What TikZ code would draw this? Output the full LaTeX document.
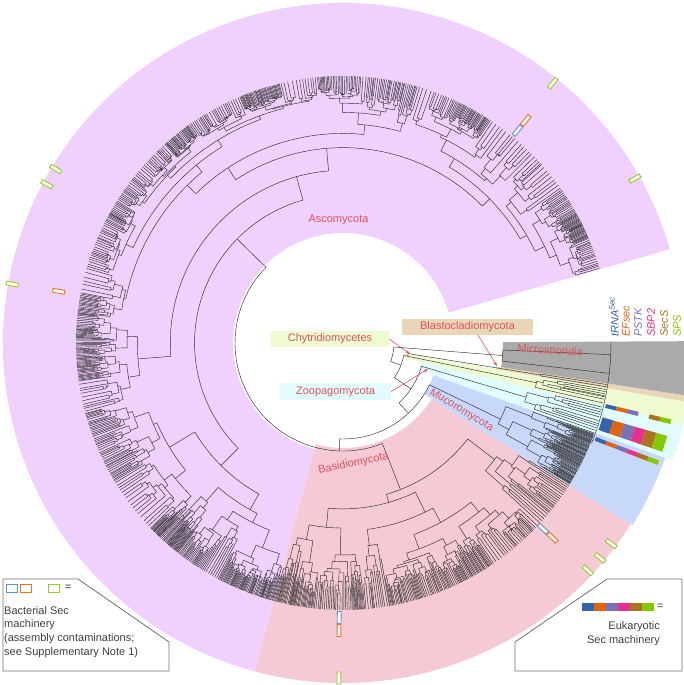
\documentclass[tikz,border=0pt]{standalone}
\usepackage{fontspec}
\setmainfont{Liberation Sans}
\usetikzlibrary{arrows.meta}
\definecolor{asco}{RGB}{240,208,252}
\definecolor{basid}{RGB}{245,202,212}
\definecolor{muco}{RGB}{200,216,250}
\definecolor{zoo}{RGB}{224,252,252}
\definecolor{chy}{RGB}{238,250,210}
\definecolor{bla}{RGB}{233,214,182}
\definecolor{mic}{RGB}{170,170,170}
\definecolor{labred}{RGB}{222,84,90}
\definecolor{cblue}{RGB}{52,100,172}
\definecolor{corange}{RGB}{226,100,12}
\definecolor{cpurple}{RGB}{122,112,182}
\definecolor{cpink}{RGB}{230,50,140}
\definecolor{cbrown}{RGB}{170,115,32}
\definecolor{cgreen}{RGB}{132,200,0}
\definecolor{mblue}{RGB}{95,145,212}
\definecolor{morange}{RGB}{232,116,30}
\definecolor{mgreen}{RGB}{150,205,40}
\newcommand\sector[5]{\fill[#1] (#2:#4) arc[start angle=#2, end angle=#3, radius=#4] -- (#3:#5) arc[start angle=#3, end angle=#2, radius=#5] -- cycle;}
\newcommand\cell[4]{\pgfmathsetmacro\CLa{270+11.2*#4}\pgfmathsetmacro\CLb{\CLa+11.2}%
  \fill[#1] (#2:\CLa) arc[start angle=#2, end angle=#3, radius=\CLa] -- (#3:\CLb) arc[start angle=#3, end angle=#2, radius=\CLb] -- cycle;}
\def\rtip{267}
\def\rcap{256}
\newcommand\phylo[4]{%
 \begingroup
 \pgfmathsetmacro\PHa{#1}%
 \pgfmathsetmacro\PHb{#2}%
 \pgfmathsetmacro\PHr{#3}%
 \pgfmathsetmacro\PHw{#4}%
 \pgfmathsetmacro\PHs{abs(\PHb-\PHa)}%
 \pgfmathsetmacro\PHm{(\PHa+\PHb)/2}%
 \ifdim\PHw pt<0.01pt
   \ifdim\PHs pt<10pt \pgfmathsetmacro\PHw{0.3+1.6*rnd*rnd}\fi
 \fi
 \ifdim\PHs pt<\PHw pt
   \draw[br] (\PHm:\PHr) -- (\PHm:\rtip);
 \else
   \pgfmathsetmacro\PHn{\PHr+(\rcap-\PHr)*(0.06+0.34*rnd)}%
   \draw[br] (\PHm:\PHr) -- (\PHm:\PHn);
   \pgfmathsetmacro\PHc{\PHa+(\PHb-\PHa)*(0.12+0.76*rnd)}%
   \pgfmathsetmacro\PHu{(\PHa+\PHc)/2}%
   \pgfmathsetmacro\PHv{(\PHc+\PHb)/2}%
   \draw[br] (\PHu:\PHn) arc[start angle=\PHu, end angle=\PHv, radius=\PHn];
   \phylo{\PHa}{\PHc}{\PHn}{\PHw}%
   \phylo{\PHc}{\PHb}{\PHn}{\PHw}%
 \fi
 \endgroup}
\begin{document}
\begin{tikzpicture}[x=1pt,y=1pt,
  br/.style={line width=0.45pt, draw=black!82},
  lab/.style={font=\fontsize{11}{13}\selectfont, text=labred, inner sep=1pt},
  labbox/.style={lab, minimum height=16pt, inner sep=0pt},
  arr/.style={draw=labred, line width=0.6pt, -{Stealth[length=4.5pt,width=3.2pt]}},
  mk/.style={draw=#1, fill=white, line width=0.9pt, minimum width=12pt, minimum height=3.8pt, inner sep=0pt, rectangle},
  hdr/.style={font=\fontsize{11}{13}\selectfont\itshape, rotate=90, anchor=west, inner sep=0pt},
  legbox/.style={draw=black!55, line width=0.8pt, fill=white},
  legtxt/.style={font=\fontsize{11}{13.6}\selectfont, text=black!75, inner sep=0pt, align=left},
  lsym/.style={draw=#1, fill=white, line width=1pt, minimum width=11pt, minimum height=8pt, inner sep=0pt, rectangle}]
\useasboundingbox (-343,-342) rectangle (341,343);
\pgfmathsetseed{7}
% clade backgrounds
\sector{asco}{16}{255}{110}{340}
\sector{basid}{-105}{-32.2}{105}{340}
\sector{muco}{-32.2}{-19.6}{96}{342}
\sector{zoo}{-19.6}{-13.5}{80}{350}
\sector{chy}{-13.5}{-9.7}{63}{350}
\sector{bla}{-9.7}{-8.7}{155}{350}
\sector{mic}{-8.7}{0.3}{160}{350}
% Sec machinery columns
\cell{cblue}{-13.9}{-13.1}{0}\cell{corange}{-13.9}{-13.1}{1}\cell{cpurple}{-13.9}{-13.1}{2}
\cell{cbrown}{-13.9}{-13.1}{4}\cell{cgreen}{-13.9}{-13.1}{5}
\cell{cblue}{-18.8}{-16.0}{0}\cell{corange}{-18.8}{-16.0}{1}\cell{cpurple}{-18.8}{-16.0}{2}
\cell{cpink}{-18.8}{-16.0}{3}\cell{cbrown}{-18.8}{-16.0}{4}\cell{cgreen}{-18.8}{-16.0}{5}
\cell{cblue}{-21.2}{-20.4}{0}\cell{corange}{-21.2}{-20.4}{1}\cell{cpurple}{-21.2}{-20.4}{2}
\cell{cpink}{-21.2}{-20.4}{3}\cell{cbrown}{-21.2}{-20.4}{4}\cell{cgreen}{-21.2}{-20.4}{5}
% backbone
\draw[br] (-4.5:51) arc[start angle=-4.5, end angle=-21, radius=51];
\draw[br] (-4.5:51) -- (-4.5:160);
\draw[br] (-2.5:160) arc[start angle=-2.5, end angle=-6.5, radius=160];
\draw[br] (-2.5:160) -- (-2.5:268);
\draw[br] (-6.5:160) -- (-6.5:268);
\draw[br] (-21:51) -- (-21:62);
\draw[br] (-11.6:62) arc[start angle=-11.6, end angle=-34, radius=62];
\draw[br] (-11.6:62) -- (-11.6:66);
\draw[br] (-9.2:66) arc[start angle=-9.2, end angle=-11.6, radius=66];
\draw[br] (-9.2:66) -- (-9.2:200);
\draw[br] (-8.95:200) arc[start angle=-8.95, end angle=-9.45, radius=200];
\draw[br] (-8.95:200) -- (-8.95:\rtip);
\draw[br] (-9.45:200) -- (-9.45:\rtip);
\draw[br] (-11.6:66) -- (-11.6:165);
\phylo{-13.4}{-9.8}{165}{0.9}
\draw[br] (-34:62) -- (-34:82);
\draw[br] (-16.5:82) arc[start angle=-16.5, end angle=-47, radius=82];
\draw[br] (-16.5:82) -- (-16.5:175);
\phylo{-19.4}{-13.6}{175}{1.0}
\draw[br] (-47:82) -- (-47:96);
\draw[br] (-25.8:96) arc[start angle=-25.8, end angle=-92, radius=96];
\draw[br] (-25.8:96) -- (-25.8:122);
\phylo{-32}{-19.6}{122}{0.3}
\draw[br] (-92:96) -- (-92:108);
\draw[br] (-68.6:108) arc[start angle=-68.6, end angle=-224.5, radius=108];
\draw[br] (-68.6:108) -- (-68.6:138);
\phylo{-105}{-32.2}{138}{0}
\phylo{16}{255}{108}{0}
\draw[br] (0.3:268) arc[start angle=0.3, end angle=-22, radius=268];
% column headers
\node[hdr, text=cblue] (h1) at (271,6) {tRNA\textsuperscript{Sec}};
\node[hdr, text=corange] (h2) at (283,6) {EFsec};
\node[hdr, text=cpurple] (h3) at (295,6) {PSTK};
\node[hdr, text=cpink] (h4) at (308,6) {SBP2};
\node[hdr, text=cbrown] (h5) at (321,6) {SecS};
\node[hdr, text=cgreen] (h6) at (334,6) {SPS};
% clade labels
\node[lab] (asc) at (-4.5,123.5) {Ascomycota};
\node[lab, rotate=12] (bas) at (10.5,-120.5) {Basidiomycota};
\node[lab, rotate=-31] (muc) at (118.5,-67.5) {Mucoromycota};
\node[lab, rotate=-4] (mic) at (207,-8) {Microsporidia};
\node[labbox, fill=chy, minimum width=118pt] (chyb) at (-13,4) {Chytridiomycetes};
\node[labbox, fill=bla, minimum width=131pt] (blab) at (124.5,16) {Blastocladiomycota};
\node[labbox, fill=zoo, minimum width=111pt, minimum height=17pt] (zoob) at (-7.5,-48.5) {Zoopagomycota};
\coordinate (chyt) at (67,-11);
\coordinate (blat) at (154,-23);
\coordinate (zoot) at (85,-26);
\draw[arr] (chyb.east) -- (chyt);
\draw[arr] (135,8) -- (blat);
\draw[arr] (zoob.east) -- (zoot);
% markers
\foreach \a/\r [count=\i] in {51.1/334, 29.4/335, 148.8/336, 151.8/336, 169.9/336, -36.8/335, -39.9/335, -42.9/334, -90.7/335}
  \node[mk=mgreen, rotate=\a] (g\i) at (\a:\r) {};
\node[mk=morange, rotate=169.7] (o1) at (169.7:289) {};
\foreach \a/\rb/\ro [count=\i] in {50.6/275/288, -42.9/273/286, -90.8/274.5/287.5}{
  \node[mk=mblue, rotate=\a] (bb\i) at (\a:\rb) {};
  \node[mk=morange, rotate=\a] (bo\i) at (\a:\ro) {};}
% legend: bacterial
\draw[legbox] (-340,-236) -- (-265,-236) -- (-174,-299) -- (-174,-328) -- (-340,-328) -- cycle;
\node[lsym=mblue] (ls1) at (-330.5,-245) {};
\node[lsym=morange] (ls2) at (-316.5,-245) {};
\node[lsym=mgreen] (ls3) at (-288.5,-245) {};
\node[legtxt, anchor=west] (leq1) at (-278,-245) {=};
\node[legtxt, anchor=base west] (bt) at (-339,-312) {Bacterial Sec\\machinery\\(assembly contaminations;\\see Supplementary Note 1)};
% legend: eukaryotic
\draw[legbox] (172,-299) -- (264,-236) -- (339,-236) -- (339,-328) -- (172,-328) -- cycle;
\foreach \c [count=\i] in {cblue,corange,cpurple,cpink,cbrown,cgreen}
  \fill[\c] ({239+12*(\i-1)},-260) rectangle ({251+12*(\i-1)},-268);
\node[legtxt, anchor=west] (leq2) at (314,-264) {=};
\node[legtxt, anchor=base east, align=right] (et) at (317,-300) {Eukaryotic\\Sec machinery};
\end{tikzpicture}
\end{document}
